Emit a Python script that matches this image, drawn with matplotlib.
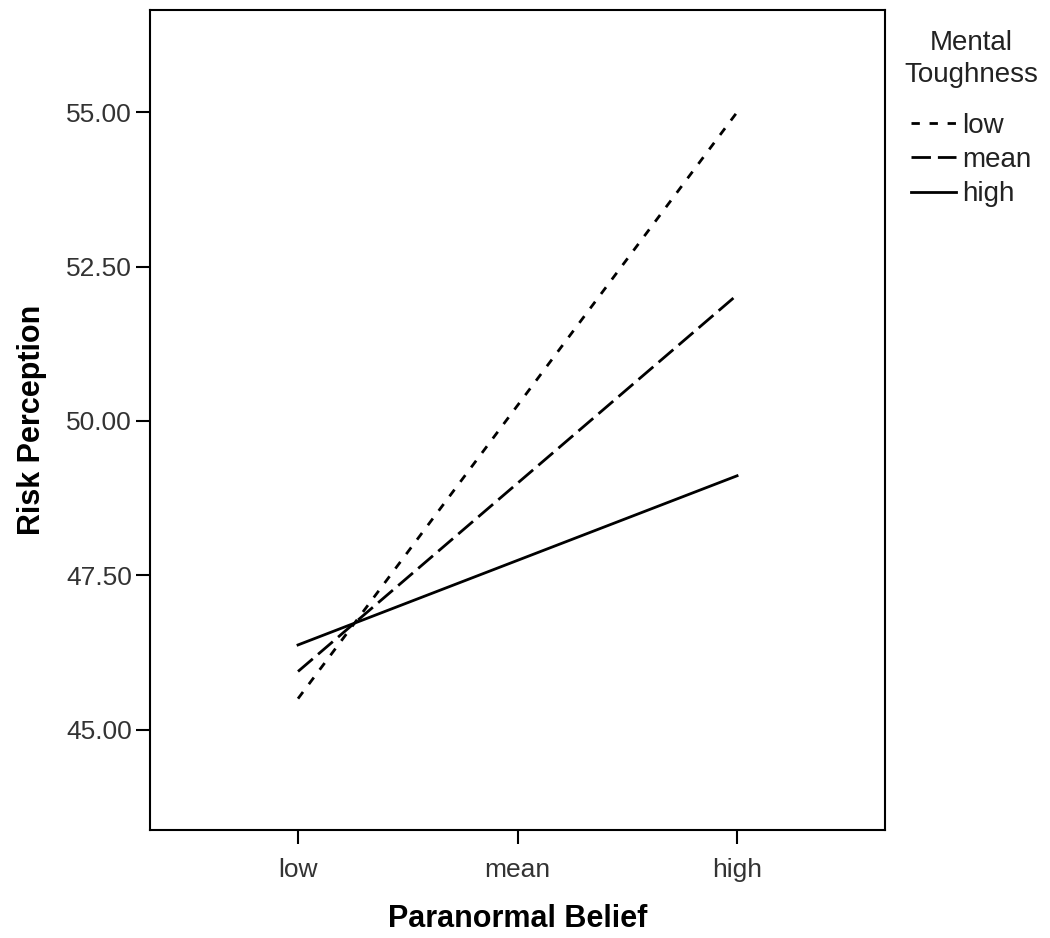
import numpy as np
import matplotlib.pyplot as plt

plt.rcParams['font.family'] = ['Liberation Sans', 'DejaVu Sans']

# x categories (Paranormal Belief) and lines per Mental Toughness level
belief = ['low', 'mean', 'high']
tough_levels = ['low', 'mean', 'high']
risk_low = [45.50, 50.25, 55.00]
risk_mean = [45.94, 48.99, 52.04]
risk_high = [46.37, 47.74, 49.11]
yticks = [45.00, 47.50, 50.00, 52.50, 55.00]

fig = plt.figure(figsize=(10.5, 9.38), dpi=100)
ax = fig.add_axes([0.1429, 0.115, 0.7, 0.874])

x = np.arange(len(belief))
styles = [(0, (3, 3.5)), (0, (7, 2.5)), '-']
for ys, lab, ls in zip([risk_low, risk_mean, risk_high], tough_levels, styles):
    ax.plot(x, ys, color='black', lw=2, linestyle=ls, label=lab)

ax.set_xlim(-0.674, 2.674)
ax.set_ylim(43.37, 56.65)
ax.set_xticks(x)
ax.set_xticklabels(belief)
ax.set_yticks(yticks)
ax.set_yticklabels(['%.2f' % v for v in yticks])
ax.tick_params(labelsize=19, labelcolor='#333333', length=10, width=1.5,
               direction='out', pad=3)
ax.tick_params(axis='x', pad=10)
for s in ax.spines.values():
    s.set_linewidth(1.5)

ax.set_xlabel('Paranormal Belief', fontsize=22, fontweight='bold', labelpad=16)
ax.set_ylabel('Risk Perception', fontsize=22, fontweight='bold', labelpad=14)

leg = ax.legend(title='Mental\nToughness', loc='upper left', bbox_to_anchor=(1.0, 1.0),
                frameon=False, fontsize=20, title_fontsize=20, handlelength=1.6,
                handletextpad=0.25, labelspacing=0.3, borderaxespad=0.2,
                borderpad=0.5)
leg._legend_box.align = 'center'
leg._legend_box.sep = 18
for t in leg.get_texts():
    t.set_color('#222222')
leg.get_title().set_color('#222222')
leg.get_title().set_multialignment('center')
leg.get_title().set_linespacing(1.3)

fig.savefig('out.png', dpi=100)
